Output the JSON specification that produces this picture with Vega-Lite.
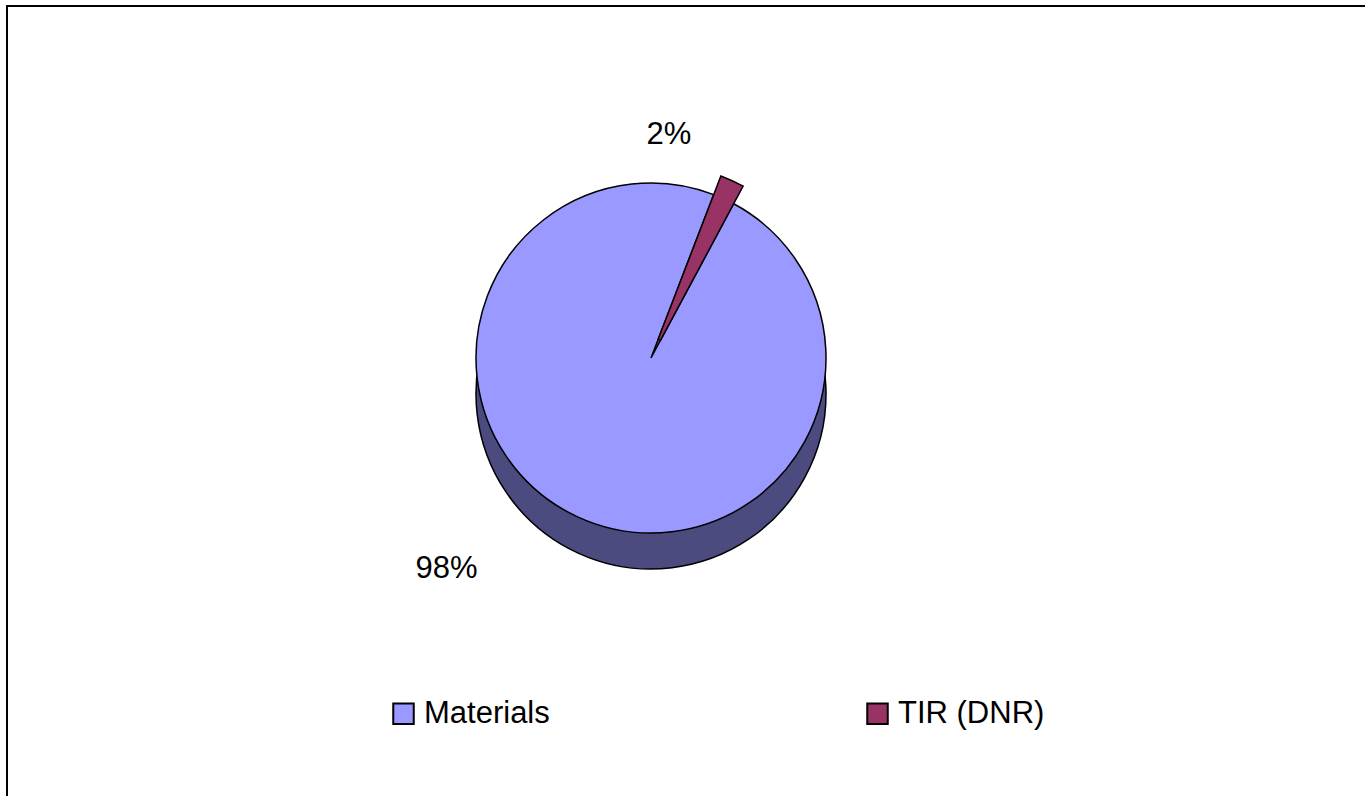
{
  "$schema": "https://vega.github.io/schema/vega-lite/v6.json",
  "width": 1365,
  "height": 796,
  "autosize": {"type": "fit", "contains": "padding"},
  "padding": {"left": 7, "top": 6, "right": -4, "bottom": -4},
  "background": "white",
  "view": {"stroke": "black", "strokeWidth": 2, "fill": "white"},
  "config": {
    "view": {"stroke": "black", "strokeWidth": 2},
    "font": "Liberation Sans"
  },
  "data": {
    "values": [
      {"category": "TIR (DNR)", "value": 2, "label": "2%", "order": 1},
      {"category": "Materials", "value": 98, "label": "98%", "order": 2}
    ]
  },
  "encoding": {
    "theta": {"field": "value", "type": "quantitative", "stack": true, "scale": {"range": [0.3665, 6.6497]}},
    "order": {"field": "order", "type": "quantitative"}
  },
  "layer": [
    {
      "mark": {"type": "arc", "x": 644, "y": 388, "outerRadius": 175, "stroke": "black", "strokeWidth": 1.5},
      "encoding": {
        "fill": {"value": "#4B4B80"},
        "opacity": {"condition": {"test": "datum.category === 'Materials'", "value": 1}, "value": 0}
      }
    },
    {
      "mark": {"type": "arc", "x": 644, "y": 352, "outerRadius": 175, "stroke": "black", "strokeWidth": 1.5},
      "encoding": {
        "color": {
          "field": "category", "type": "nominal",
          "scale": {"domain": ["Materials", "TIR (DNR)"], "range": ["#9999FF", "#993366"]},
          "legend": {
            "orient": "none", "legendX": 381, "legendY": 692, "direction": "horizontal",
            "title": null, "symbolType": "square", "symbolSize": 420, "symbolStrokeColor": "black",
            "symbolStrokeWidth": 2, "symbolOpacity": 1, "labelFontSize": 31, "labelFont": "Liberation Sans",
            "labelColor": "black", "labelOffset": 5, "columnPadding": 312, "labelLimit": 400
          }
        },
        "opacity": {"condition": {"test": "datum.category === 'Materials'", "value": 1}, "value": 0}
      }
    },
    {
      "mark": {"type": "arc", "x": 644, "y": 352, "outerRadius": 195, "innerRadius": 20, "stroke": "black", "strokeWidth": 1.5},
      "encoding": {
        "color": {"field": "category", "type": "nominal"},
        "opacity": {"condition": {"test": "datum.category === 'TIR (DNR)'", "value": 1}, "value": 0}
      }
    },
    {
      "mark": {"type": "text", "x": 644, "y": 352, "radius": 245, "dx": -84, "fontSize": 31, "color": "black"},
      "encoding": {
        "text": {"field": "label"},
        "opacity": {"condition": {"test": "datum.category === 'TIR (DNR)'", "value": 1}, "value": 0}
      }
    },
    {
      "mark": {"type": "text", "x": 644, "y": 352, "radius": 215, "dx": -115, "dy": 16, "fontSize": 31, "color": "black"},
      "encoding": {
        "text": {"field": "label"},
        "opacity": {"condition": {"test": "datum.category === 'Materials'", "value": 1}, "value": 0}
      }
    }
  ]
}
